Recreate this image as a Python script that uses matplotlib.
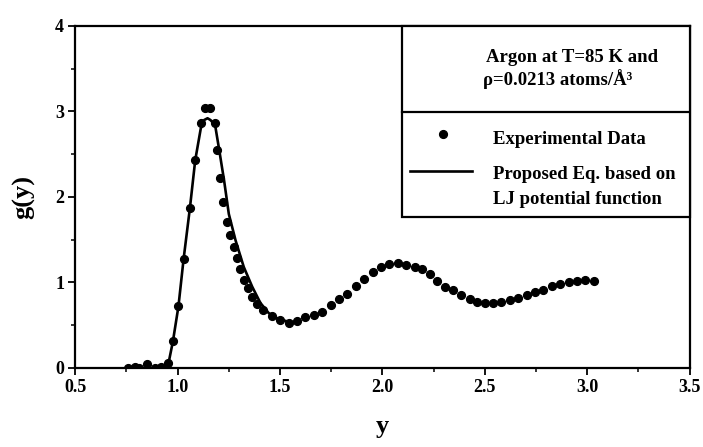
import matplotlib
matplotlib.use("Agg")
import matplotlib.pyplot as plt
from matplotlib.patches import Rectangle
from matplotlib.lines import Line2D
from matplotlib.ticker import MultipleLocator

x_exp = [0.76, 0.79, 0.81, 0.85, 0.89, 0.92, 0.955, 0.977, 1.004, 1.029, 1.060,
         1.085, 1.114, 1.134, 1.158, 1.183, 1.192, 1.207, 1.220, 1.239, 1.257,
         1.273, 1.290, 1.304, 1.326, 1.342, 1.363, 1.388, 1.417, 1.460, 1.502,
         1.543, 1.584, 1.624, 1.665, 1.706, 1.747, 1.788, 1.829, 1.870, 1.911,
         1.952, 1.994, 2.034, 2.075, 2.115, 2.157, 2.192, 2.230, 2.267, 2.306,
         2.344, 2.384, 2.426, 2.463, 2.499, 2.540, 2.580, 2.622, 2.663, 2.704,
         2.745, 2.786, 2.826, 2.868, 2.909, 2.949, 2.990, 3.031]
y_exp = [0.0, 0.01, 0.0, 0.04, 0.0, 0.01, 0.06, 0.31, 0.72, 1.27, 1.87,
         2.43, 2.86, 3.04, 3.04, 2.86, 2.55, 2.22, 1.94, 1.71, 1.55,
         1.41, 1.29, 1.16, 1.03, 0.93, 0.83, 0.75, 0.68, 0.61, 0.555,
         0.53, 0.55, 0.59, 0.62, 0.65, 0.73, 0.80, 0.87, 0.955, 1.04,
         1.12, 1.18, 1.21, 1.225, 1.205, 1.185, 1.155, 1.10, 1.02, 0.95,
         0.91, 0.85, 0.80, 0.77, 0.76, 0.76, 0.77, 0.79, 0.82, 0.855,
         0.89, 0.915, 0.955, 0.985, 1.005, 1.02, 1.03, 1.015]

# Proposed equation (LJ potential) curve
x_fit = [0.93, 0.956, 0.977, 1.004, 1.029, 1.060, 1.086, 1.113, 1.130, 1.146,
         1.160, 1.183, 1.203, 1.227, 1.250, 1.283, 1.323, 1.364, 1.404, 1.445,
         1.486, 1.526]
y_fit = [0.0, 0.06, 0.31, 0.72, 1.27, 1.87, 2.43, 2.80, 2.90, 2.92,
         2.90, 2.84, 2.55, 2.19, 1.80, 1.49, 1.18, 0.95, 0.76, 0.64,
         0.58, 0.55]

x_ticks = [0.5, 1.0, 1.5, 2.0, 2.5, 3.0, 3.5]
x_ticklabels = ["0.5", "1.0", "1.5", "2.0", "2.5", "3.0", "3.5"]
y_ticks = [0, 1, 2, 3, 4]
y_ticklabels = ["0", "1", "2", "3", "4"]

legend_title = ["Argon at T=85 K and", "ρ=0.0213 atoms/Å³"]
legend_dot = "Experimental Data"
legend_line = ["Proposed Eq. based on", "LJ potential function"]

plt.rcParams['font.family'] = ['Liberation Serif', 'DejaVu Serif']

fig = plt.figure(figsize=(7.03, 4.47), dpi=100)
ax = fig.add_axes([0.107, 0.177, 0.874, 0.765])

ax.plot(x_fit, y_fit, '-', color='black', lw=1.9, zorder=2)
ax.plot(x_exp, y_exp, 'o', color='black', ms=5.6, zorder=3)

ax.set_xlim(0.5, 3.5)
ax.set_ylim(0, 4)
ax.set_xticks(x_ticks)
ax.set_xticklabels(x_ticklabels)
ax.set_yticks(y_ticks)
ax.set_yticklabels(y_ticklabels)
ax.xaxis.set_minor_locator(MultipleLocator(0.25))
ax.yaxis.set_minor_locator(MultipleLocator(0.5))
ax.tick_params(which='major', direction='out', length=5, width=1.3,
               labelsize=13, pad=3)
ax.tick_params(which='minor', direction='out', length=3, width=1.1)
for lab in ax.get_xticklabels() + ax.get_yticklabels():
    lab.set_fontweight('bold')
for sp in ax.spines.values():
    sp.set_linewidth(1.6)

ax.set_xlabel('y', fontsize=19, fontweight='bold', labelpad=14)
ax.set_ylabel('g(y)', fontsize=19, fontweight='bold', labelpad=14)

# Legend box drawn in axes coordinates
x0, y0 = 0.532, 0.44
ax.add_patch(Rectangle((x0, y0), 1 - x0, 1 - y0, transform=ax.transAxes,
                       fill=True, facecolor='white', edgecolor='black',
                       lw=1.6, zorder=4, clip_on=False))
ax.add_line(Line2D([x0, 1.0], [0.748, 0.748], transform=ax.transAxes,
                   color='black', lw=1.6, zorder=5))
tkw = dict(transform=ax.transAxes, fontsize=13.5, fontweight='bold',
           va='center', ha='left', zorder=6)
ax.text(0.668, 0.909, legend_title[0], **tkw)
ax.text(0.663, 0.845, legend_title[1], **tkw)
ax.plot([0.598], [0.683], 'o', color='black', ms=5.6, transform=ax.transAxes,
        zorder=6, clip_on=False)
ax.text(0.680, 0.669, legend_dot, **tkw)
ax.add_line(Line2D([0.545, 0.646], [0.575, 0.575], transform=ax.transAxes,
                   color='black', lw=1.9, zorder=6))
ax.text(0.680, 0.566, legend_line[0], **tkw)
ax.text(0.680, 0.493, legend_line[1], **tkw)

fig.savefig('out.png', dpi=100)
